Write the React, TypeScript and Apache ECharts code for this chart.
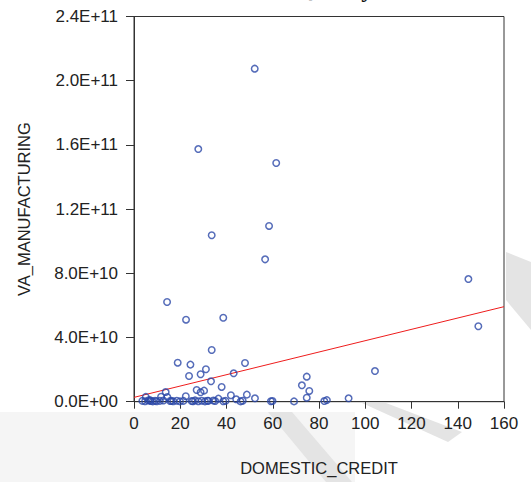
import React, { useEffect, useRef } from "react";
import * as echarts from "echarts";

// DOMESTIC_CREDIT (x) and VA_MANUFACTURING (y) observations
const domesticCredit = [
  52.2, 27.8, 61.5, 58.4, 33.6, 56.7, 144.6, 14.3, 38.6, 22.5, 148.9, 33.6,
  18.9, 48.0, 24.4, 31.1, 104.2, 43.1, 28.8, 23.8, 74.7, 33.3, 72.6, 37.9,
  27.1, 30.3, 75.8, 13.7, 28.8, 48.8, 41.9, 22.4, 11.7, 14.4, 74.7, 92.8,
  52.3, 5.1, 44.2, 6.9, 36.5, 83.4, 82.3,
  3.6, 4.8, 6.2, 7.2, 8.1, 9.1, 9.8, 11.2, 12.7, 15.6, 17.0, 18.5, 19.9,
  21.4, 24.9, 26.4, 27.8, 29.3, 30.7, 32.2, 35.1, 34.3, 38.6, 39.6, 46.1,
  47.0, 59.2, 59.9, 69.2, 16.2, 25.5, 31.7,
];
const vaManufacturing = [
  2.075e11, 1.574e11, 1.487e11, 1.095e11, 1.037e11, 8.87e10, 7.64e10, 6.21e10,
  5.23e10, 5.11e10, 4.7e10, 3.22e10, 2.43e10, 2.41e10, 2.31e10, 2.02e10,
  1.91e10, 1.77e10, 1.71e10, 1.6e10, 1.56e10, 1.27e10, 1.02e10, 9.2e9, 7.3e9,
  6.9e9, 6.7e9, 6.0e9, 5.9e9, 4.4e9, 4.0e9, 3.4e9, 3.1e9, 2.9e9, 2.5e9, 2.1e9,
  2.1e9, 3.0e9, 1.5e9, 1.0e9, 1.9e9, 1.0e9, 0.4e9,
  0.5e9, 0.3e9, 0.8e9, 0.4e9, 0.2e9, 0.6e9, 0.3e9, 0.5e9, 0.7e9, 0.4e9,
  0.3e9, 0.6e9, 0.2e9, 0.5e9, 0.4e9, 0.8e9, 0.3e9, 0.6e9, 0.2e9, 0.5e9,
  0.4e9, 0.7e9, 0.3e9, 0.5e9, 0.2e9, 0.6e9, 0.3e9, 0.4e9, 0.2e9, 0.5e9,
  0.3e9, 0.6e9,
];
// fitted regression line endpoints
const fitX = [0, 160];
const fitY = [2.7e9, 5.92e10];

const xTicks = { min: 0, max: 160, interval: 20 };
const yTicks = { min: 0, max: 2.4e11, interval: 4e10 };

const FONT = "Liberation Sans, Arial, sans-serif";
const TXT = "#222";

function fmtY(v: number): string {
  if (v === 0) return "0.0E+00";
  return v.toExponential(1).toUpperCase();
}

export default function App() {
  const ref = useRef<HTMLDivElement>(null);
  useEffect(() => {
    if (!ref.current) return;
    const chart = echarts.init(ref.current, null, { renderer: "svg" });
    const pts = domesticCredit.map((x, i) => [x, vaManufacturing[i]]);
    const fit = fitX.map((x, i) => [x, fitY[i]]);
    chart.setOption({
      animation: false,
      backgroundColor: "#fff",
      grid: {
        left: 134,
        right: 27,
        top: 16.5,
        bottom: 80.3,
        show: true,
        borderColor: "#333",
        borderWidth: 1,
        backgroundColor: "#fff",
      },
      graphic: [
        {
          type: "rect",
          z: -10,
          shape: { x: 0, y: 412, width: 355, height: 70 },
          style: { fill: "#f5f5f5" },
          silent: true,
        },
        {
          type: "polygon",
          z: -9,
          shape: { points: [[268, 412], [292, 412], [352, 482], [326, 482]] },
          style: { fill: "#e4e4e4" },
          silent: true,
        },
        {
          type: "polygon",
          z: -9,
          shape: { points: [[362, 403], [386, 403], [462, 432], [448, 442]] },
          style: { fill: "#e4e4e4" },
          silent: true,
        },
        {
          type: "polygon",
          z: -9,
          shape: { points: [[506, 252], [531, 262], [531, 330], [506, 300]] },
          style: { fill: "#e4e4e4" },
          silent: true,
        },
        {
          type: "text",
          left: 296,
          top: -23,
          style: {
            text: "Quality",
            font: "bold 24px 'Liberation Serif', serif",
            fill: "#111",
          },
        },
      ],
      xAxis: {
        type: "value",
        min: xTicks.min,
        max: xTicks.max,
        interval: xTicks.interval,
        name: "DOMESTIC_CREDIT",
        nameLocation: "middle",
        nameGap: 58,
        nameTextStyle: { fontFamily: FONT, fontSize: 16.5, color: TXT },
        axisLine: { show: true, lineStyle: { color: "#333", width: 1 } },
        axisTick: { show: true, inside: false, length: 7, lineStyle: { color: "#333" } },
        axisLabel: { margin: 13, fontFamily: FONT, fontSize: 17, color: TXT },
        splitLine: { show: false },
      },
      yAxis: {
        type: "value",
        min: yTicks.min,
        max: yTicks.max,
        interval: yTicks.interval,
        name: "VA_MANUFACTURING",
        nameLocation: "middle",
        nameGap: 102,
        nameTextStyle: { fontFamily: FONT, fontSize: 16.5, color: TXT },
        axisLine: { show: true, lineStyle: { color: "#333", width: 1 } },
        axisTick: { show: true, inside: false, length: 8, lineStyle: { color: "#333" } },
        axisLabel: { margin: 16, fontFamily: FONT, fontSize: 17, color: TXT, formatter: fmtY },
        splitLine: { show: false },
      },
      series: [
        {
          type: "line",
          data: fit,
          showSymbol: false,
          symbol: "none",
          lineStyle: { color: "#ee1c1c", width: 1 },
          z: 1,
        },
        {
          type: "scatter",
          data: pts,
          symbol: "circle",
          symbolSize: 6.5,
          itemStyle: { color: "rgba(0,0,0,0)", borderColor: "#2a47a8", borderWidth: 1.5 },
          z: 2,
        },
      ],
    });
    return () => chart.dispose();
  }, []);
  return (
    <div
      ref={ref}
      style={{ position: "fixed", left: 0, top: 0, width: 531, height: 482 }}
    />
  );
}
